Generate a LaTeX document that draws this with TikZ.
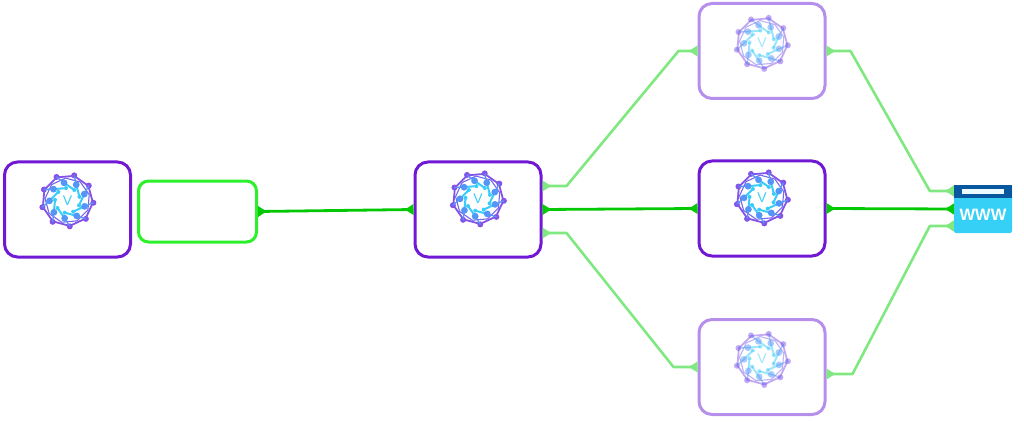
\documentclass[tikz,border=0pt]{standalone}
\usepackage{fontspec}
\setsansfont{Liberation Sans}
\usetikzlibrary{arrows.meta}
\definecolor{vnfpurple}{RGB}{112,24,212}
\definecolor{vnfpale}{RGB}{182,142,236}
\definecolor{ringpurple}{RGB}{132,84,232}
\definecolor{spokeblue}{RGB}{84,150,248}
\definecolor{spokecyan}{RGB}{60,204,250}
\definecolor{linkgreen}{RGB}{4,200,4}
\definecolor{linkpale}{RGB}{128,232,128}
\definecolor{gategreen}{RGB}{44,240,44}
\definecolor{wwwcyan}{RGB}{54,208,246}
\definecolor{wwwblue}{RGB}{8,88,160}
\tikzset{
  vnfbox/.style={draw=vnfpurple, line width=3pt, rounded corners=13pt, fill=white, inner sep=0pt, minimum width=126pt, minimum height=95pt},
  palebox/.style={vnfbox, draw=vnfpale},
  gatebox/.style={vnfbox, draw=gategreen, rounded corners=10pt, minimum width=118pt, minimum height=61pt},
  mainlink/.style={draw=linkgreen, line width=2.8pt, >={Latex[reversed,length=10pt,width=12pt]}, <->},
  palelink/.style={draw=linkpale, line width=2.6pt, line join=round, >={Latex[reversed,length=10pt,width=12pt]}, <->},
  vmark/.pic={
    \draw[ringpurple, line width=1.8pt] (35:25.5pt) foreach \a in {75,115,...,355} { -- (\a:25.5pt) } -- cycle;
    \draw[ringpurple!70!spokeblue, line width=1.1pt] (15:22.5pt) foreach \a in {55,95,...,335} { -- (\a:22.5pt) } -- cycle;
    \foreach \a in {35,75,...,355} {
      \fill[ringpurple] (\a:26pt) circle (3pt);
      \draw[spokeblue, line width=1.3pt] (\a:26pt) -- (\a-14:18pt);
      \draw[spokecyan, line width=2pt] (\a-14:18pt) -- (\a-58:12.5pt);
      \fill[spokeblue] (\a-14:18pt) circle (3.4pt);
      \fill[spokecyan] (\a-58:12.5pt) circle (2pt);
    }
    \node[text=spokecyan, font=\sffamily\fontsize{14}{14}\selectfont, inner sep=0pt] (-v) at (0,0) {V};
  }
}
\begin{document}
\begin{tikzpicture}[x=1pt,y=-1pt]
\useasboundingbox (0,0) rectangle (1024,422);
\node[vnfbox] (leftbox) at (67.5,209.5) {};
\node[gatebox] (edgebox) at (197.5,211.5) {};
\node[vnfbox] (midbox) at (478,209.5) {};
\node[palebox] (topbox) at (762,51) {};
\node[vnfbox] (centerbox) at (762,208.5) {};
\node[palebox] (lowbox) at (762,367) {};
\node[fill=wwwcyan, rounded corners=2pt, inner sep=0pt, minimum width=58pt, minimum height=48pt] (www) at (983,209) {};
\fill[wwwblue, rounded corners=2pt] ([yshift=-13pt]www.north west) [sharp corners] -- (www.north west) -- (www.north east) -- ([yshift=-13pt]www.north east) -- cycle;
\fill[white!90!wwwcyan] ([xshift=8pt,yshift=-4pt]www.north west) rectangle ([xshift=-8pt,yshift=-9pt]www.north east);
\node[text=white, font=\sffamily\bfseries\fontsize{16.5}{16.5}\selectfont, inner sep=0pt] (wwwlabel) at ([yshift=-6pt]www.center) {WWW};
% emblems
\pic (leftmark) at ([yshift=9pt]leftbox.center) {vmark};
\pic (midmark) at ([yshift=11pt]midbox.center) {vmark};
\pic[opacity=.5] (topmark) at ([yshift=8pt]topbox.center) {vmark};
\pic (centermark) at ([yshift=11pt]centerbox.center) {vmark};
\pic[opacity=.5] (lowmark) at ([yshift=8pt]lowbox.center) {vmark};
% links
\draw[mainlink] (edgebox.east) -- (midbox.west);
\draw[mainlink] (midbox.east) -- (centerbox.west);
\draw[mainlink] (centerbox.east) -- (www.west);
\draw[palelink] ([yshift=23.5pt]midbox.east) -- ++(24,0) -- ([xshift=-19pt]topbox.west) -- (topbox.west);
\draw[palelink] ([yshift=-23.5pt]midbox.east) -- ++(24,0) -- ([xshift=-24pt]lowbox.west) -- (lowbox.west);
\draw[palelink] (topbox.east) -- ++(24,0) -- ([xshift=-24pt,yshift=18pt]www.west) -- ([yshift=18pt]www.west);
\draw[palelink] ([yshift=-7pt]lowbox.east) -- ++(26,0) -- ([xshift=-24pt,yshift=-17pt]www.west) -- ([yshift=-17pt]www.west);
\end{tikzpicture}
\end{document}
